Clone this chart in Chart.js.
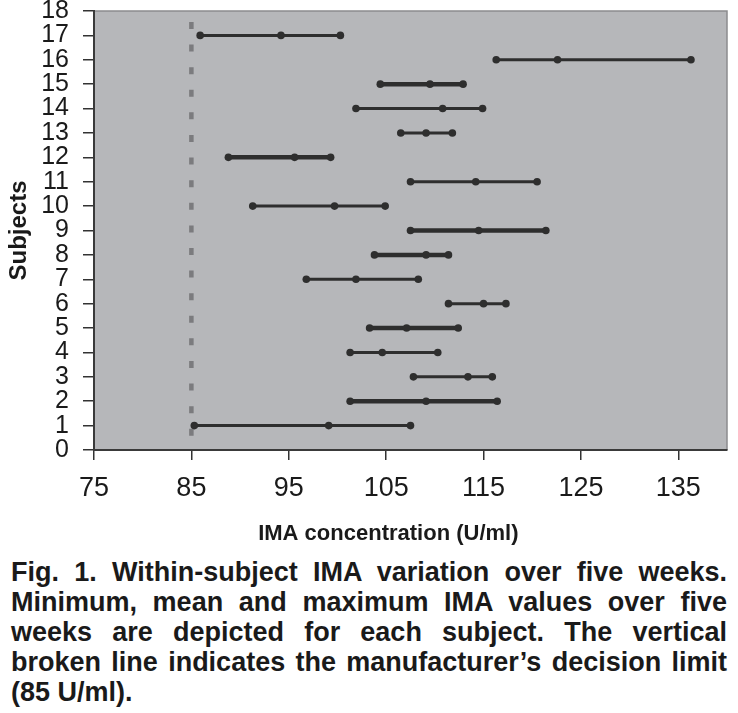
<!DOCTYPE html>
<html>
<head>
<meta charset="utf-8">
<script src="https://cdn.jsdelivr.net/npm/chart.js@4.4.1/dist/chart.umd.min.js"></script>
<style>
  html, body { margin: 0; padding: 0; background: #fff; }
  #wrap { position: relative; width: 738px; height: 548px; }
  #caption {
    position: absolute; left: 11px; top: 557px; width: 716px;
    font-family: "Liberation Sans", Arial, sans-serif;
    font-weight: bold; font-size: 27px; line-height: 30px;
    text-align: justify; color: #1a1a1a;
  }
</style>
</head>
<body>
<div id="wrap"><canvas id="chart"></canvas></div>
<div id="caption">Fig. 1. Within-subject IMA variation over five weeks. Minimum, mean and maximum IMA values over five weeks are depicted for each subject. The vertical broken line indicates the manufacturer’s decision limit (85 U/ml).</div>
<script>
// Subjects 1..17, min / mean / max IMA (U/ml)
const subjects = [1, 2, 3, 4, 5, 6, 7, 8, 9, 10, 11, 12, 13, 14, 15, 16, 17];
const minValues  = [85.3, 101.3, 107.8, 101.3, 103.3, 111.4, 96.8, 103.8, 107.5, 91.3, 107.5, 88.8, 106.5, 101.9, 104.4, 116.3, 85.9];
const meanValues = [99.1, 109.1, 113.4, 104.6, 107.1, 115.0, 101.9, 109.1, 114.5, 99.7, 114.2, 95.6, 109.1, 110.8, 109.5, 122.6, 94.2];
const maxValues  = [107.5, 116.4, 115.9, 110.3, 112.4, 117.3, 108.3, 111.4, 121.4, 104.9, 120.5, 99.3, 111.8, 114.9, 112.9, 136.3, 100.3];
const thickRows  = [2, 5, 8, 9, 12, 15];

const xTicks = [75, 85, 95, 105, 115, 125, 135];
const decisionLimit = 85;
const limitTop = 17.55;

const ink = '#2e2e2e';

const datasets = subjects.map((s, i) => ({
    label: 'Subject ' + s,
    data: [
        { x: minValues[i], y: s },
        { x: meanValues[i], y: s },
        { x: maxValues[i], y: s }
    ],
    showLine: true,
    borderColor: ink,
    backgroundColor: ink,
    borderWidth: thickRows.includes(s) ? 4.5 : 3,
    pointRadius: 3.8,
    pointHoverRadius: 3.8,
    pointBorderWidth: 0
}));

// vertical broken line at the decision limit
datasets.push({
    label: 'Decision limit',
    data: [{ x: decisionLimit, y: limitTop }, { x: decisionLimit, y: 0 }],
    showLine: true,
    borderColor: '#7b7b7e',
    borderWidth: 4.5,
    borderDash: [7, 15.6],
    pointRadius: 0
});

// gray plot background + light top/right frame
const plotFrame = {
    id: 'plotFrame',
    beforeDraw(chart) {
        const { ctx, chartArea: a } = chart;
        ctx.save();
        ctx.fillStyle = '#b6b7ba';
        ctx.fillRect(a.left, a.top, a.right - a.left, a.bottom - a.top);
        ctx.strokeStyle = '#8c8c8e';
        ctx.lineWidth = 1.5;
        ctx.beginPath();
        ctx.moveTo(a.left, a.top);
        ctx.lineTo(a.right, a.top);
        ctx.lineTo(a.right, a.bottom);
        ctx.stroke();
        ctx.restore();
    }
};

// x axis title, sits a little left of the plot centre in the original
const xTitle = {
    id: 'xTitle',
    afterDraw(chart) {
        const { ctx, chartArea: a } = chart;
        ctx.save();
        ctx.font = 'bold 22px "Liberation Sans", Arial, sans-serif';
        ctx.fillStyle = '#1a1a1a';
        ctx.textAlign = 'center';
        ctx.textBaseline = 'middle';
        ctx.fillText('IMA concentration (U/ml)', a.left + (a.right - a.left) * 0.465, 534);
        ctx.restore();
    }
};

new Chart(document.getElementById('chart').getContext('2d'), {
    type: 'scatter',
    data: { datasets: datasets },
    options: {
        responsive: true,
        maintainAspectRatio: false,
        animation: false,
        layout: { padding: { top: 11, right: 11, left: 0, bottom: 0 } },
        plugins: {
            legend: { display: false },
            tooltip: { enabled: false }
        },
        scales: {
            x: {
                type: 'linear',
                min: 75,
                max: 140,
                afterBuildTicks: (scale) => { scale.ticks = xTicks.map(v => ({ value: v })); },
                afterFit: (scale) => { scale.height = 98; scale.paddingLeft = 0; scale.paddingRight = 0; },
                grid: { drawOnChartArea: false, tickLength: 10, color: '#333', lineWidth: 1.5 },
                border: { color: '#3a3a3a', width: 2 },
                ticks: {
                    padding: 12,
                    color: '#1a1a1a',
                    maxRotation: 0,
                    autoSkip: false,
                    font: { family: '"Liberation Sans", Arial, sans-serif', size: 27 }
                }
            },
            y: {
                type: 'linear',
                min: 0,
                max: 18,
                afterFit: (scale) => { scale.width = 94; scale.paddingTop = 0; scale.paddingBottom = 0; },
                grid: { drawOnChartArea: false, tickLength: 11, color: '#333', lineWidth: 1.5 },
                border: { color: '#3a3a3a', width: 2 },
                title: {
                    display: true,
                    text: 'Subjects',
                    color: '#1a1a1a',
                    padding: { top: 5, bottom: 0 },
                    font: { family: '"Liberation Sans", Arial, sans-serif', size: 24, weight: 'bold' }
                },
                ticks: {
                    stepSize: 1,
                    autoSkip: false,
                    padding: 14,
                    color: '#1a1a1a',
                    font: { family: '"Liberation Sans", Arial, sans-serif', size: 25, lineHeight: 0.9 }
                }
            }
        }
    },
    plugins: [plotFrame, xTitle]
});
</script>
</body>
</html>
